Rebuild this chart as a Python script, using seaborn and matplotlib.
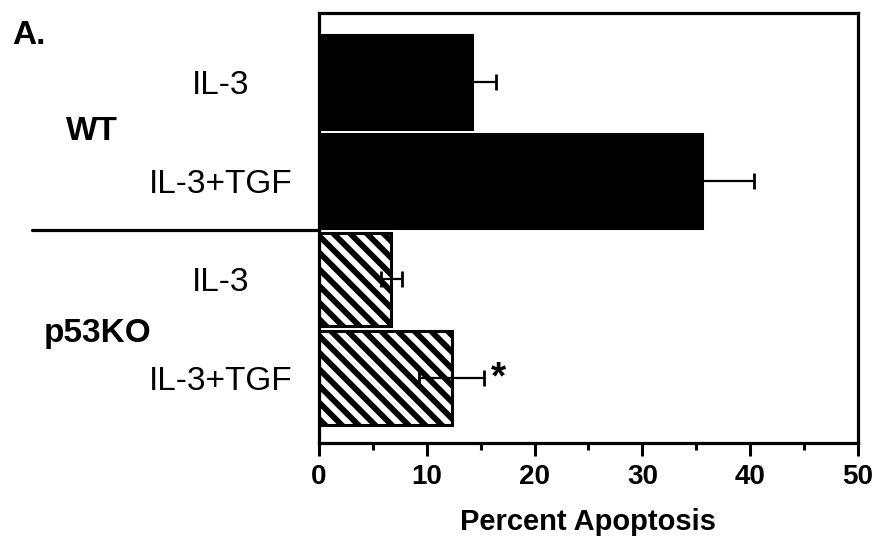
import matplotlib
matplotlib.use('Agg')
import matplotlib.pyplot as plt
import matplotlib.transforms as mtransforms
from matplotlib.ticker import MultipleLocator
import seaborn as sns
import pandas as pd

# values
conditions = ['WT IL-3', 'WT IL-3+TGF', 'p53KO IL-3', 'p53KO IL-3+TGF']
tick_labels = ['IL-3', 'IL-3+TGF', 'IL-3', 'IL-3+TGF']
apoptosis = [14.2, 35.5, 6.7, 12.3]
sd = [2.2, 4.9, 1.0, 3.0]
groups = ['WT', 'p53KO']

sns.set_style('ticks')
plt.rcParams['font.family'] = ['Liberation Sans', 'DejaVu Sans']
plt.rcParams['hatch.linewidth'] = 4.2
for key in ['text.color', 'axes.labelcolor', 'xtick.color', 'ytick.color']:
    plt.rcParams[key] = 'black'

data = pd.DataFrame({'condition': conditions, 'value': apoptosis})

fig = plt.figure(figsize=(8.79, 5.40), dpi=100)
ax = fig.add_axes([0.363, 0.18, 0.613, 0.796])

sns.barplot(data=data, x='value', y='condition', orient='h', color='black',
            width=0.95, saturation=1, ax=ax)

for i, bar in enumerate(ax.patches):
    bar.set_edgecolor('black')
    bar.set_linewidth(2.2)
    if i >= 2:
        bar.set_facecolor('white')
        bar.set_hatch('\\\\')

ax.errorbar(apoptosis, range(len(conditions)), xerr=sd, fmt='none',
            ecolor='black', elinewidth=1.6, capsize=5.8, capthick=2, zorder=5)

# significance mark
ax.text(apoptosis[3] + sd[3] + 0.6, 3, '*', fontsize=28, fontweight='bold',
        ha='left', va='center')

ax.set_xlim(0, 50)
ax.set_ylim(3.653, -0.698)
ax.xaxis.set_major_locator(MultipleLocator(10))
ax.xaxis.set_minor_locator(MultipleLocator(5))
ax.tick_params(axis='x', which='major', length=9.4, width=2.2, pad=6,
               labelsize=20)
ax.tick_params(axis='x', which='minor', length=5, width=2.2)
for lab in ax.get_xticklabels():
    lab.set_fontweight('bold')

ax.set_yticks(range(len(conditions)))
ax.set_yticklabels(tick_labels, fontsize=24)
ax.tick_params(axis='y', length=0, pad=71)
for lab in ax.get_yticklabels():
    lab.set_horizontalalignment('center')

ax.set_xlabel('Percent Apoptosis', fontsize=21, fontweight='bold', labelpad=13)
ax.set_ylabel('')

for side in ['top', 'right', 'bottom', 'left']:
    ax.spines[side].set_visible(True)
    ax.spines[side].set_linewidth(2.3)
    ax.spines[side].set_color('black')

# group labels and divider on the left
trans = mtransforms.blended_transform_factory(ax.transAxes, ax.transData)
ax.text(-0.421, 0.5, groups[0], transform=trans, fontsize=24,
        fontweight='bold', ha='center', va='center')
ax.text(-0.412, 2.55, groups[1], transform=trans, fontsize=24,
        fontweight='bold', ha='center', va='center')
ax.plot([-0.532, 0], [1.5, 1.5], transform=trans, color='black', lw=2.3,
        clip_on=False)

fig.text(0.014, 0.934, 'A.', fontsize=24, fontweight='bold', ha='left',
         va='center')

fig.savefig('out.png', dpi=100)
